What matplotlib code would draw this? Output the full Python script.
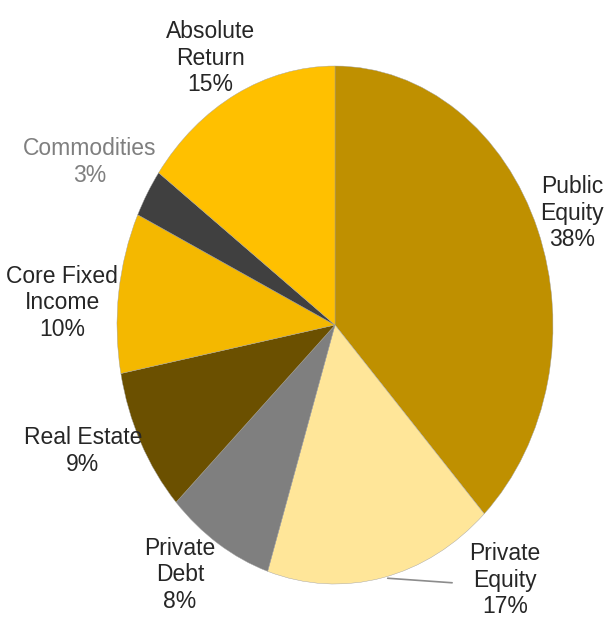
import matplotlib
matplotlib.use("Agg")
import matplotlib.pyplot as plt

labels = ["Public\nEquity", "Private\nEquity", "Private\nDebt", "Real Estate",
          "Core Fixed\nIncome", "Commodities", "Absolute\nReturn"]
shares = [38, 17, 8, 9, 10, 3, 15]
colors = ["#BF9000", "#FFE699", "#7F7F7F", "#6B5000", "#F4B800", "#404040", "#FFC000"]

# label centres in data units (pie radius = 1)
label_pos = [(1.087, 0.432), (0.78, -0.985), (-0.711, -0.965), (-1.156, -0.486),
             (-1.252, 0.085), (-1.124, 0.629), (-0.573, 1.03)]
label_colors = ["#262626"] * 5 + ["#7F7F7F", "#262626"]

plt.rcParams['font.family'] = ['Liberation Sans', 'DejaVu Sans']

fig = plt.figure(figsize=(6.05, 6.19), dpi=100)
W, H = 605, 619
cx, cy, rx, ry = 335, 325, 218, 259
ax = fig.add_axes([(cx - rx) / W, (H - cy - ry) / H, 2 * rx / W, 2 * ry / H])

ax.pie(shares, colors=colors, startangle=90, counterclock=False,
       wedgeprops=dict(linewidth=0.3, edgecolor="#A0A0A0"))
ax.set_aspect('auto')
ax.set_xlim(-1, 1)
ax.set_ylim(-1, 1)
ax.axis('off')

for lab, val, (x, y), c in zip(labels, shares, label_pos, label_colors):
    ax.text(x, y, "%s\n%d%%" % (lab, val), ha='center', va='center',
            fontsize=16.5, color=c, linespacing=1.2, clip_on=False)

# leader line for Private Equity
ax.annotate("", xy=(0.229, -0.977), xytext=(0.55, -0.996),
            arrowprops=dict(arrowstyle='-', color='#8C8C8C', lw=1.2),
            annotation_clip=False)

fig.savefig("out.png", dpi=100)
